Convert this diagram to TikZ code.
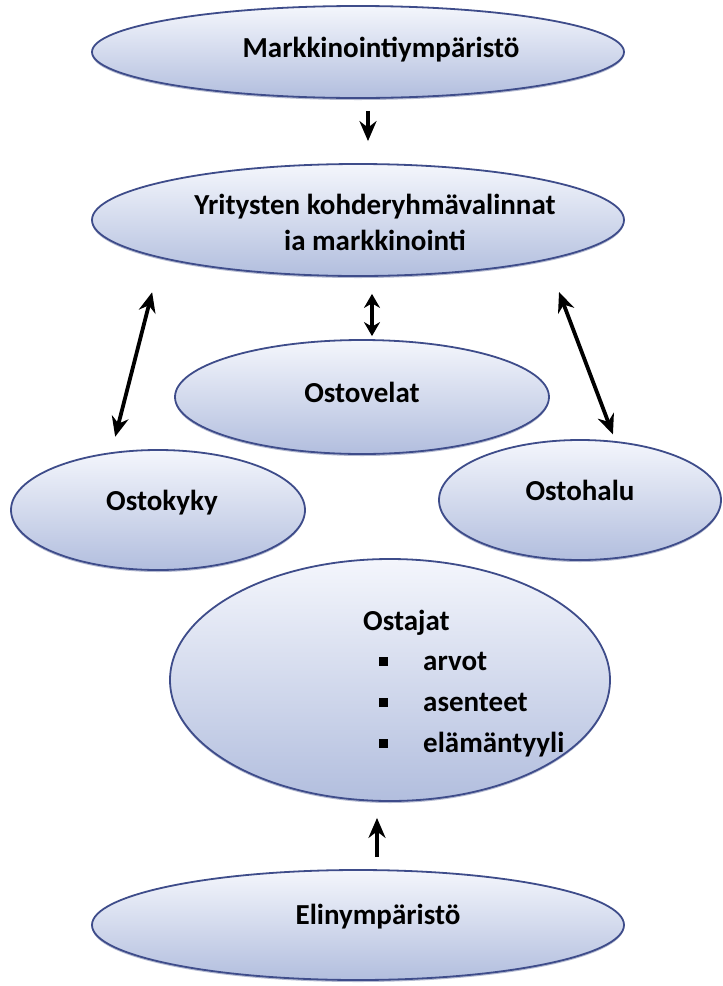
\documentclass[tikz,border=0pt]{standalone}
\usepackage{fontspec}
\setmainfont{Carlito}
\usetikzlibrary{shapes.geometric,arrows.meta,shadows}
\definecolor{elbord}{RGB}{62,76,138}
\definecolor{eltop}{RGB}{244,246,252}
\definecolor{elbot}{RGB}{178,190,222}
\tikzset{
  oval/.style={ellipse, draw=elbord, line width=1.8pt, top color=eltop, bottom color=elbot, inner sep=0pt,
    drop shadow={shadow xshift=0pt, shadow yshift=-2pt, fill=elbord!70, opacity=0.55}},
  lbl/.style={font=\fontsize{29}{36}\selectfont\bfseries, align=center, inner sep=0pt},
  arr/.style={-{Stealth[length=20pt,width=17pt]}, line width=3.8pt},
  dbl/.style={{Stealth[length=20pt,width=17pt]}-{Stealth[length=20pt,width=17pt]}, line width=3.8pt},
  dblshort/.style={{Stealth[length=14pt,width=16pt]}-{Stealth[length=14pt,width=16pt]}, line width=3.8pt},
  sq/.style={fill=black, minimum size=9pt, inner sep=0pt},
}
\begin{document}
\begin{tikzpicture}[x=1pt,y=-1pt]
\path[use as bounding box, fill=white] (0,0) rectangle (723,986);
% ellipses
\node[oval, minimum width=532pt, minimum height=92pt] (mark) at (358,52) {};
\node[oval, minimum width=532pt, minimum height=112pt] (yrit) at (358,220) {};
\node[oval, minimum width=374pt, minimum height=114pt] (velat) at (362,397) {};
\node[oval, minimum width=294pt, minimum height=120pt] (kyky) at (158,510) {};
\node[oval, minimum width=282pt, minimum height=120pt] (halu) at (580,500) {};
\node[oval, minimum width=440pt, minimum height=242pt] (ostajat) at (390,680) {};
\node[oval, minimum width=532pt, minimum height=110pt] (elin) at (358,925) {};
% texts
\node[lbl] (markt) at (381,50) {Markkinointiympäristö};
\node[lbl] (yritt) at (375,222) {Yritysten kohderyhmävalinnat\\ia markkinointi};
\node[lbl] (velatt) at (362,392) {Ostovelat};
\node[lbl] (kykyt) at (162,503) {Ostokyky};
\node[lbl] (halut) at (580,490) {Ostohalu};
\node[lbl, anchor=base west] (o0) at (363,630) {Ostajat};
\node[lbl, anchor=base west] (o1) at (423,670) {arvot};
\node[lbl, anchor=base west] (o2) at (423,711) {asenteet};
\node[lbl, anchor=base west] (o3) at (423,752) {elämäntyyli};
\node[sq] (b1) at (383,661) {};
\node[sq] (b2) at (383,702) {};
\node[sq] (b3) at (383,743) {};
\node[lbl] (elint) at (378,917) {Elinympäristö};
% connectors
\draw[arr, shorten <=12pt, shorten >=22pt] ([xshift=10pt]mark.south) -- ([xshift=10pt]yrit.north);
\draw[dblshort, shorten <=17pt, shorten >=3pt] ([xshift=14pt]yrit.south) -- ([xshift=10pt]velat.north);
\draw[dbl, shorten <=35pt, shorten >=16pt] (yrit.191) -- (kyky.129);
\draw[dbl, shorten <=34pt, shorten >=7pt] (yrit.348) -- (halu.59);
\draw[arr, shorten <=12pt, shorten >=16pt] ([xshift=19pt]elin.north) -- ([xshift=-13pt]ostajat.south);
\end{tikzpicture}
\end{document}
